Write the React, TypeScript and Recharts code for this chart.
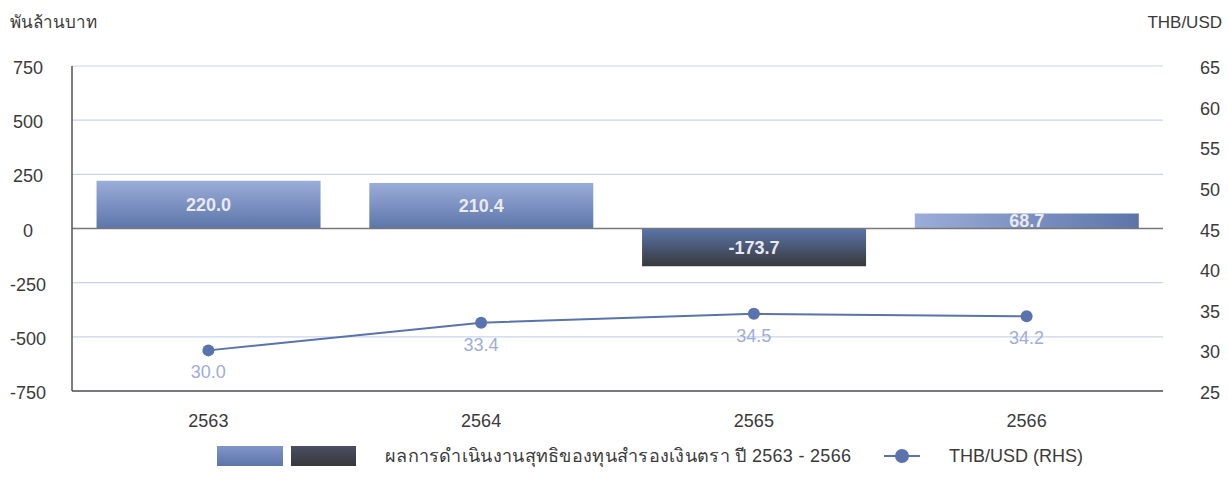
import React from 'react';
import {
  ComposedChart,
  Bar,
  Line,
  XAxis,
  YAxis,
  CartesianGrid,
  ReferenceLine,
  LabelList,
  Legend,
  Cell,
} from 'recharts';

// ข้อมูลจากกราฟ
const years = ['2563', '2564', '2565', '2566'];
const netResult = [220.0, 210.4, -173.7, 68.7];
const thbUsd = [30.0, 33.4, 34.5, 34.2];
const leftTicks = [-750, -500, -250, 0, 250, 500, 750];
const rightTicks = [25, 30, 35, 40, 45, 50, 55, 60, 65];
const barFills = ['url(#gradUp)', 'url(#gradUp)', 'url(#gradDown)', 'url(#gradSide)'];

const chartData = years.map((year, i) => ({
  year,
  net: netResult[i],
  rate: thbUsd[i],
}));

const FONT = '"Liberation Sans", Arial, "Noto Sans", sans-serif';
const TEXT = '#3a3a3a';

const LeftTick = (props: any) => {
  const { y, payload } = props;
  return (
    <text x={28} y={y + 2} textAnchor="middle" dominantBaseline="central" fontSize={18} fill={TEXT} fontFamily={FONT}>
      {payload.value}
    </text>
  );
};

const RightTick = (props: any) => {
  const { y, payload } = props;
  return (
    <text x={1200} y={y + 2} textAnchor="start" dominantBaseline="central" fontSize={18} fill={TEXT} fontFamily={FONT}>
      {payload.value}
    </text>
  );
};

const BottomTick = (props: any) => {
  const { x, y, payload } = props;
  return (
    <text x={x} y={y + 22} textAnchor="middle" dominantBaseline="central" fontSize={18} fill={TEXT} fontFamily={FONT}>
      {payload.value}
    </text>
  );
};

const LegendContent = () => (
  <div
    style={{
      position: 'relative',
      width: 1228,
      height: 24,
      fontFamily: FONT,
      fontSize: 18,
      color: TEXT,
    }}
  >
    <div
      style={{
        position: 'absolute',
        left: 217,
        top: 2,
        width: 66,
        height: 20,
        background: 'linear-gradient(to bottom, #8195c9, #5d75aa)',
      }}
    />
    <div
      style={{
        position: 'absolute',
        left: 291,
        top: 2,
        width: 65,
        height: 20,
        background: 'linear-gradient(to bottom, #4a4f62, #37383c)',
      }}
    />
    <span
      style={{
        position: 'absolute',
        left: 385,
        top: 0,
        lineHeight: '24px',
        whiteSpace: 'nowrap',
        letterSpacing: 0.3,
      }}
    >
      ผลการดำเนินงานสุทธิของทุนสำรองเงินตรา ปี 2563 - 2566
    </span>
    <svg style={{ position: 'absolute', left: 882, top: 0 }} width={40} height={24}>
      <line x1={2} y1={12} x2={38} y2={12} stroke="#5a72ad" strokeWidth={2} />
      <circle cx={20} cy={12} r={7} fill="#5a72ad" />
    </svg>
    <span style={{ position: 'absolute', left: 949, top: 0, lineHeight: '24px', whiteSpace: 'nowrap' }}>
      THB/USD (RHS)
    </span>
  </div>
);

const App: React.FC = () => {
  return (
    <div style={{ position: 'absolute', left: 0, top: 0, width: 1228, height: 494, background: '#fff' }}>
      <div
        style={{
          position: 'absolute',
          left: 10,
          top: 11,
          fontSize: 17,
          color: TEXT,
          fontFamily: FONT,
          lineHeight: '24px',
        }}
      >
        พันล้านบาท
      </div>
      <div
        style={{
          position: 'absolute',
          right: 6,
          top: 11,
          fontSize: 17,
          color: TEXT,
          fontFamily: FONT,
          lineHeight: '24px',
        }}
      >
        THB/USD
      </div>
      <ComposedChart
        width={1228}
        height={494}
        data={chartData}
        margin={{ top: 66, right: 0, bottom: 0, left: 0 }}
        barCategoryGap="9%"
      >
        <defs>
          <linearGradient id="gradUp" x1="0" y1="0" x2="0" y2="1">
            <stop offset="0%" stopColor="#9badd9" />
            <stop offset="100%" stopColor="#5c75a9" />
          </linearGradient>
          <linearGradient id="gradSide" x1="0" y1="0" x2="1" y2="0">
            <stop offset="0%" stopColor="#9badd9" />
            <stop offset="100%" stopColor="#5c75a9" />
          </linearGradient>
          <linearGradient id="gradDown" x1="0" y1="0" x2="0" y2="1">
            <stop offset="0%" stopColor="#5a75aa" />
            <stop offset="100%" stopColor="#38393b" />
          </linearGradient>
        </defs>
        <CartesianGrid vertical={false} stroke="#c9d3ec" strokeWidth={1.2} yAxisId="left" />
        <XAxis
          dataKey="year"
          height={103}
          tickLine={false}
          axisLine={{ stroke: '#555', strokeWidth: 1.5 }}
          tick={<BottomTick />}
        />
        <YAxis
          yAxisId="left"
          width={72}
          domain={[-750, 750]}
          ticks={leftTicks}
          tickLine={false}
          axisLine={{ stroke: '#555', strokeWidth: 1.5 }}
          tick={<LeftTick />}
          interval={0}
        />
        <YAxis
          yAxisId="right"
          orientation="right"
          width={65}
          domain={[25, 65]}
          ticks={rightTicks}
          tickLine={false}
          axisLine={false}
          tick={<RightTick />}
          interval={0}
        />
        <Bar dataKey="net" yAxisId="left" isAnimationActive={false}>
          {chartData.map((entry, index) => (
            <Cell key={`cell-${index}`} fill={barFills[index]} />
          ))}
          <LabelList
            dataKey="net"
            position="center"
            fill="#e9e9f0"
            fontSize={18}
            fontWeight={700}
            fontFamily={FONT}
            formatter={(v: any) => Number(v).toFixed(1)}
          />
        </Bar>
        <ReferenceLine y={0} yAxisId="left" stroke="#777" strokeWidth={1.5} />
        <Line
          dataKey="rate"
          yAxisId="right"
          stroke="#5a72ad"
          strokeWidth={2}
          dot={{ r: 6, fill: '#5a72ad', stroke: 'none' }}
          isAnimationActive={false}
        >
          <LabelList
            dataKey="rate"
            position="bottom"
            offset={15}
            fill="#9dadd9"
            fontSize={18}
            fontFamily={FONT}
            formatter={(v: any) => Number(v).toFixed(1)}
          />
        </Line>
        <Legend
          layout="horizontal"
          verticalAlign="middle"
          align="center"
          content={<LegendContent />}
          wrapperStyle={{ position: 'absolute', left: 0, top: 444, width: 1228, height: 24 }}
        />
      </ComposedChart>
    </div>
  );
};

export default App;
